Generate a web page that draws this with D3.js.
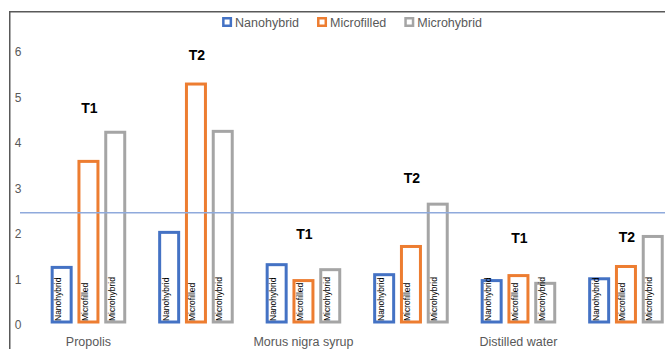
<!DOCTYPE html>
<html>
<head>
<meta charset="utf-8">
<script src="https://cdn.jsdelivr.net/npm/d3@7"></script>
<style>
  html, body { margin: 0; padding: 0; background: #fff; }
  svg { display: block; font-family: "Liberation Sans", Arial, sans-serif; }
</style>
</head>
<body>
<svg id="chart" width="665" height="349"></svg>
<script>
// Groups along the x axis: each solution is measured at two times
const categories = ["Propolis", "Morus nigra syrup", "Distilled water"];
const times = ["T1", "T2"];
const series = ["Nanohybrid", "Microfilled", "Microhybrid"];
const colors = ["#4472C4", "#ED7D31", "#A5A5A5"];

// Values per cluster, in order P-T1, P-T2, M-T1, M-T2, D-T1, D-T2
const nanohybrid  = [1.20, 1.97, 1.26, 1.04, 0.91, 0.95];
const microfilled = [3.53, 5.23, 0.91, 1.66, 1.02, 1.22];
const microhybrid = [4.17, 4.19, 1.15, 2.59, 0.85, 1.88];

// Height of each T1/T2 caption above its cluster
const timeLabelLevels = [4.70, 5.87, 1.93, 3.16, 1.85, 1.87];

const yTicks = [0, 1, 2, 3, 4, 5, 6];
const referenceLevel = 2.40;

const seriesValues = [nanohybrid, microfilled, microhybrid];
const clusters = [];
categories.forEach((c, ci) => times.forEach((t, ti) => {
  clusters.push({ id: c + "|" + t, category: c, time: t, index: ci * 2 + ti });
}));

const W = 665, H = 349;
const svg = d3.select("#chart");
const textGray = "#595959";

const y = d3.scaleLinear().domain([0, 6]).range([322, 49]);

const x0 = d3.scaleBand()
  .domain(clusters.map(d => d.id))
  .range([34.7, 679.7])
  .paddingInner(0.297)
  .paddingOuter(0.1485);

const x1 = d3.scaleBand()
  .domain(series)
  .range([0, x0.bandwidth()])
  .paddingInner(0.179)
  .paddingOuter(0);

// Chart frame (top and left edges)
svg.append("path")
  .attr("d", `M9.75,${H} V11.75 H${W}`)
  .attr("fill", "none")
  .attr("stroke", "#595959")
  .attr("stroke-width", 1.5);

// Y axis labels
const yAxis = svg.append("g")
  .attr("transform", "translate(18,0)")
  .call(d3.axisLeft(y).tickValues(yTicks).tickSize(0).tickPadding(0).tickFormat(d3.format("d")));
yAxis.select(".domain").remove();
yAxis.selectAll("text")
  .attr("text-anchor", "middle")
  .attr("x", 0)
  .attr("dy", "0.55em")
  .attr("fill", textGray)
  .style("font-size", "12px")
  .style("font-family", "Liberation Sans, Arial, sans-serif");

// Bars
const stroke = 3;
const groups = svg.append("g").selectAll("g")
  .data(clusters)
  .join("g")
  .attr("transform", d => `translate(${x0(d.id)},0)`);

groups.each(function (c) {
  const g = d3.select(this);
  series.forEach((s, si) => {
    const v = seriesValues[si][c.index];
    g.append("rect")
      .attr("x", x1(s) + stroke / 2)
      .attr("width", x1.bandwidth() - stroke)
      .attr("y", y(v))
      .attr("height", y(0) - y(v))
      .attr("fill", "#fff")
      .attr("stroke", colors[si])
      .attr("stroke-width", stroke);
    const cx = x1(s) + x1.bandwidth() / 2 - 0.5;
    g.append("text")
      .attr("transform", `translate(${cx},${y(0) - 1}) rotate(-90)`)
      .attr("text-anchor", "start")
      .attr("fill", "#000")
      .style("font-size", "8.5px")
      .text(s);
  });
});

// Reference level line
svg.append("line")
  .attr("x1", 20).attr("x2", W)
  .attr("y1", y(referenceLevel)).attr("y2", y(referenceLevel))
  .attr("stroke", "#8FAADC")
  .attr("stroke-width", 1.5);

// T1 / T2 captions
svg.append("g").selectAll("text")
  .data(clusters)
  .join("text")
  .attr("x", d => x0(d.id) + x0.bandwidth() / 2 + 1)
  .attr("y", d => y(timeLabelLevels[d.index]))
  .attr("dy", "0.36em")
  .attr("text-anchor", "middle")
  .attr("fill", "#000")
  .style("font-size", "14px")
  .style("font-weight", "bold")
  .text(d => d.time);

// Category labels under the first cluster of each solution
svg.append("g").selectAll("text")
  .data(clusters.filter(d => d.time === "T1"))
  .join("text")
  .attr("x", d => x0(d.id) + x0.bandwidth() / 2)
  .attr("y", 346)
  .attr("text-anchor", "middle")
  .attr("fill", textGray)
  .style("font-size", "12.5px")
  .text(d => d.category);

// Legend
const legend = svg.append("g");
let lx = 0;
series.forEach((s, i) => {
  const item = legend.append("g").attr("transform", `translate(${lx},0)`);
  item.append("rect")
    .attr("x", 1.25).attr("y", -3.75)
    .attr("width", 7.5).attr("height", 7.5)
    .attr("fill", "#fff")
    .attr("stroke", colors[i])
    .attr("stroke-width", 2.5);
  const t = item.append("text")
    .attr("x", 13)
    .attr("y", 4.5)
    .attr("fill", textGray)
    .style("font-size", "12.5px")
    .text(s);
  lx += 13 + t.node().getComputedTextLength() + 18;
});
const legendWidth = lx - 18;
legend.attr("transform", `translate(${352 - legendWidth / 2},22)`);
</script>
</body>
</html>
